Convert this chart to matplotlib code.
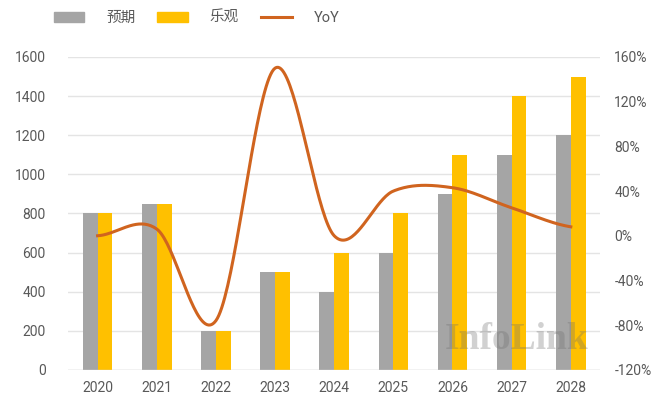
import numpy as np
import matplotlib.pyplot as plt
from matplotlib.patches import Patch
from matplotlib.lines import Line2D

plt.rcParams["font.family"] = ["Roboto", "Noto Sans CJK SC", "DejaVu Sans"]

years = ["2020", "2021", "2022", "2023", "2024", "2025", "2026", "2027", "2028"]
expected = [800, 850, 200, 500, 400, 600, 900, 1100, 1200]
optimistic = [800, 850, 200, 500, 600, 800, 1100, 1400, 1500]
yoy = [0, 6, -76, 150, 0, 40, 43, 25, 8]

GREY = "#a5a5a5"
YELLOW = "#ffc000"
ORANGE = "#d0641f"
TEXT = "#595959"


def smooth(x, y, steps=40):
    """catmull-rom curve through the points, like excel's smoothed line"""
    x = np.asarray(x, float)
    y = np.asarray(y, float)
    px = np.concatenate([[2 * x[0] - x[1]], x, [2 * x[-1] - x[-2]]])
    py = np.concatenate([[y[0]], y, [y[-1]]])
    xs, ys = [], []
    for i in range(1, len(px) - 2):
        t = np.linspace(0, 1, steps, endpoint=False)
        for p, out in ((px, xs), (py, ys)):
            p0, p1, p2, p3 = p[i - 1], p[i], p[i + 1], p[i + 2]
            out.append(0.5 * (2 * p1 + (-p0 + p2) * t
                              + (2 * p0 - 5 * p1 + 4 * p2 - p3) * t ** 2
                              + (-p0 + 3 * p1 - 3 * p2 + p3) * t ** 3))
    xs.append([x[-1]])
    ys.append([y[-1]])
    return np.concatenate(xs), np.concatenate(ys)


fig = plt.figure(figsize=(6.54, 4.16), dpi=100)
ax = fig.add_axes([0.104, 0.111, 0.814, 0.752])

pos = np.arange(len(years))
w = 0.25
ax.bar(pos - w / 2, expected, w, color=GREY, zorder=2)
ax.bar(pos + w / 2, optimistic, w, color=YELLOW, zorder=2)

ax.set_xlim(-0.5, 8.5)
ax.set_ylim(0, 1600)
ax.set_yticks(range(0, 1601, 200))
ax.set_xticks(pos)
ax.set_xticklabels(years)
ax.grid(axis="y", color="#e4e4e4", linewidth=1, zorder=0)
for s in ax.spines.values():
    s.set_visible(False)
ax.axhline(0, color="#d9d9d9", linewidth=1, zorder=3)
ax.tick_params(length=0, labelsize=10, labelcolor=TEXT, pad=8)
ax.tick_params(axis="y", pad=16)

ax2 = ax.twinx()
sx, sy = smooth(pos, yoy)
ax2.plot(sx, sy, color=ORANGE, linewidth=2.2, zorder=4)
ax2.set_ylim(-120, 160)
ax2.set_yticks(range(-120, 161, 40))
ax2.set_yticklabels([f"{v}%" for v in range(-120, 161, 40)])
for s in ax2.spines.values():
    s.set_visible(False)
ax2.tick_params(length=0, labelsize=10, labelcolor=TEXT, pad=10)

ax.text(0.843, 0.096, "InfoLink", transform=ax.transAxes, ha="center",
        va="center", fontsize=27, fontweight="bold",
        family="Liberation Serif", color="#707070", alpha=0.32, zorder=5)

handles = [Patch(color=GREY), Patch(color=YELLOW),
           Line2D([], [], color=ORANGE, linewidth=2.2)]
fig.legend(handles, ["预期", "乐观", "YoY"], loc="upper left",
           bbox_to_anchor=(0.062, 1.005), ncol=3, frameon=False,
           fontsize=10.5, labelcolor=TEXT, handlelength=2.1,
           handleheight=0.6, columnspacing=1.5, handletextpad=1.5)

fig.savefig("out.png", dpi=100)
